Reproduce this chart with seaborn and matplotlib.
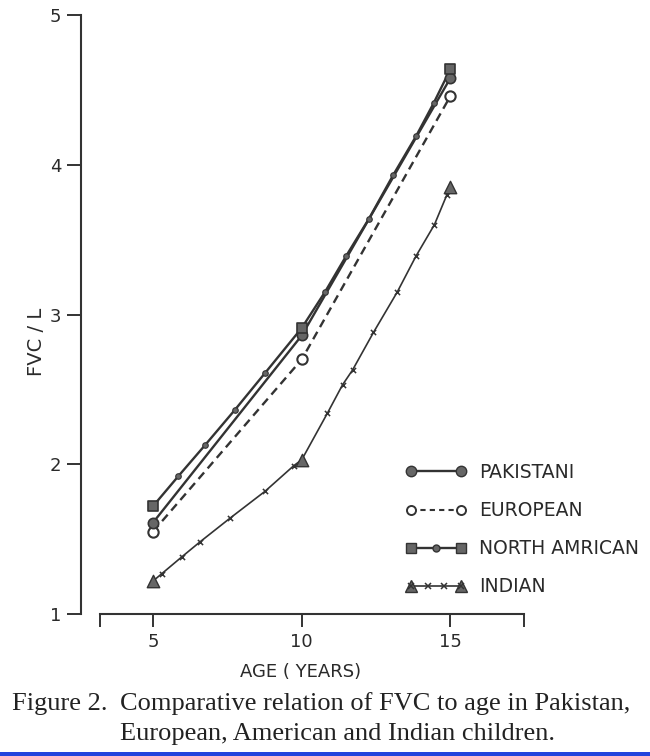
import matplotlib
matplotlib.use("Agg")
import matplotlib.pyplot as plt
from matplotlib.lines import Line2D
from matplotlib.legend_handler import HandlerLine2D, HandlerTuple
from matplotlib.patches import Rectangle
import seaborn as sns
import pandas as pd

# ---------------- data ----------------
ages_main = [5, 10, 15]
pakistani = [1.61, 2.86, 4.58]
european = [1.55, 2.70, 4.46]
north_american = [1.72, 2.91, 4.64]
indian = [1.22, 2.03, 3.85]

# small intermediate markers drawn on the North American and Indian curves
na_small_age = [5.85, 6.76, 7.74, 8.77, 10.78, 11.49, 12.26, 13.07, 13.84, 14.43]
na_small_fvc = [1.92, 2.13, 2.36, 2.61, 3.15, 3.39, 3.64, 3.93, 4.19, 4.41]
ind_small_age = [5.30, 5.96, 6.57, 7.59, 8.77, 9.73, 10.86, 11.37, 11.71,
                 12.41, 13.21, 13.84, 14.46, 14.88]
ind_small_fvc = [1.27, 1.38, 1.48, 1.64, 1.82, 1.99, 2.34, 2.53, 2.63,
                 2.88, 3.15, 3.39, 3.60, 3.80]

x_ticks = [5, 10, 15]
y_ticks = [1, 2, 3, 4, 5]
legend_labels = ["PAKISTANI", "EUROPEAN", "NORTH AMRICAN", "INDIAN"]
x_label = "AGE ( YEARS)"
y_label = "FVC / L"
caption_head = "Figure 2."
caption_lines = ["Comparative relation of FVC to age in Pakistan,",
                 "European, American and Indian children."]

# ---------------- style ----------------
sns.set_style("white")
plt.rcParams["font.family"] = ["DejaVu Sans"]

INK = "#333333"
FILL = "#666666"
TXT = "#2a2a2a"

fig = plt.figure(figsize=(6.5, 7.56), dpi=100)
W, H = 650, 756
ax_left, ax_right, ax_top, ax_bot = 81, 640, 15, 614
ax = fig.add_axes([ax_left / W, 1 - ax_bot / H, (ax_right - ax_left) / W,
                   (ax_bot - ax_top) / H])
px_per_year = 29.75
x0 = 5 - (153 - ax_left) / px_per_year
ax.set_xlim(x0, x0 + (ax_right - ax_left) / px_per_year)
ax.set_ylim(1, 5)


def series_df(main_x, main_y, small_x=None, small_y=None):
    xs = list(main_x) + (list(small_x) if small_x else [])
    ys = list(main_y) + (list(small_y) if small_y else [])
    return pd.DataFrame({"age": xs, "fvc": ys}).sort_values("age")


df_pak = series_df(ages_main, pakistani)
df_eur = series_df(ages_main, european)
df_na = series_df(ages_main, north_american, na_small_age, na_small_fvc)
df_ind = series_df(ages_main, indian, ind_small_age, ind_small_fvc)

# lines
sns.lineplot(data=df_pak, x="age", y="fvc", ax=ax, color=INK, lw=1.7,
             estimator=None, sort=True, legend=False)
sns.lineplot(data=df_eur, x="age", y="fvc", ax=ax, color=INK, lw=1.7,
             estimator=None, sort=True, legend=False, linestyle=(0, (3.6, 2.3)))
sns.lineplot(data=df_na, x="age", y="fvc", ax=ax, color=INK, lw=1.7,
             estimator=None, sort=True, legend=False)
sns.lineplot(data=df_ind, x="age", y="fvc", ax=ax, color=INK, lw=1.2,
             estimator=None, sort=True, legend=False)

# small markers
sns.scatterplot(x=na_small_age, y=na_small_fvc, ax=ax, marker="o", s=16,
                color=FILL, edgecolor=INK, linewidth=0.8, zorder=4, legend=False)
sns.scatterplot(x=ind_small_age, y=ind_small_fvc, ax=ax, marker="x", s=14,
                color=INK, linewidth=1.1, zorder=4, legend=False)

# main markers
sns.scatterplot(x=ages_main, y=indian, ax=ax, marker="^", s=80, color=FILL,
                edgecolor=INK, linewidth=1.0, zorder=5, legend=False, clip_on=False)
sns.scatterplot(x=ages_main, y=european, ax=ax, marker="o", s=55, color="white",
                edgecolor=INK, linewidth=1.5, zorder=5, legend=False, clip_on=False)
sns.scatterplot(x=ages_main, y=pakistani, ax=ax, marker="o", s=55, color=FILL,
                edgecolor=INK, linewidth=1.2, zorder=6, legend=False, clip_on=False)
sns.scatterplot(x=ages_main, y=north_american, ax=ax, marker="s", s=60, color=FILL,
                edgecolor=INK, linewidth=1.2, zorder=6, legend=False, clip_on=False)

# axes styling
for s in ("top", "right"):
    ax.spines[s].set_visible(False)
for s in ("left", "bottom"):
    ax.spines[s].set_color(INK)
    ax.spines[s].set_linewidth(1.5)
x_start = 5 - (153 - 100) / px_per_year
x_end = 15 + (524 - 450) / px_per_year
ax.spines["left"].set_bounds(1, 5)
ax.spines["bottom"].set_bounds(x_start, x_end)
ax.spines["bottom"].set_position(("data", 1.0))

ax.set_xticks(x_ticks)
ax.set_xticks([x_start, x_end], minor=True)
ax.set_yticks(y_ticks)
ax.set_xticklabels([str(v) for v in x_ticks])
ax.set_yticklabels([str(v) for v in y_ticks])
ax.tick_params(axis="x", which="both", bottom=True, direction="out", length=9,
               width=1.4, color=INK, pad=5, labelsize=13, labelcolor=TXT)
ax.tick_params(axis="y", left=True, direction="out", length=10, width=1.4,
               color=INK, pad=4, labelsize=13, labelcolor=TXT)
ax.set_xlabel("")
ax.set_ylabel("")

fig.text(301 / W, 1 - 672 / H, x_label, ha="center", va="center",
         fontsize=13, color=TXT)
fig.text(36 / W, 1 - 342 / H, y_label, ha="center", va="center",
         rotation=90, fontsize=14, color=TXT)

# legend
h_pak = Line2D([], [], color=INK, lw=1.7, marker="o", ms=7.5,
               markerfacecolor=FILL, markeredgecolor=INK)
h_eur = Line2D([], [], color=INK, lw=1.5, ls=(0, (2.5, 2.0)), marker="o", ms=6.5,
               markerfacecolor="white", markeredgecolor=INK, markeredgewidth=1.4)
h_na_end = Line2D([], [], color=INK, lw=1.7, marker="s", ms=7.5,
                  markerfacecolor=FILL, markeredgecolor=INK)
h_na_mid = Line2D([], [], ls="none", marker="o", ms=5,
                  markerfacecolor=FILL, markeredgecolor=INK)
h_ind_end = Line2D([], [], color=INK, lw=1.2, marker="^", ms=8,
                   markerfacecolor=FILL, markeredgecolor=INK)
h_ind_mid = Line2D([], [], ls="none", marker="x", ms=4, color=INK,
                   markeredgewidth=1.1)

leg = fig.legend(
    [h_pak, h_eur, (h_na_end, h_na_mid), (h_ind_end, h_ind_mid)],
    legend_labels,
    handler_map={tuple: HandlerTuple(ndivide=1, pad=0),
                 h_na_mid: HandlerLine2D(numpoints=1),
                 h_ind_mid: HandlerLine2D(numpoints=4)},
    numpoints=2, loc="upper left", bbox_to_anchor=(405 / W, 1 - 463 / H),
    frameon=False, fontsize=13.5, handlelength=3.3, handletextpad=0.65,
    labelspacing=1.02, borderpad=0, borderaxespad=0,
)
for t in leg.get_texts():
    t.set_color(TXT)

# caption
serif = ["Liberation Serif", "DejaVu Serif"]
cap_kw = dict(ha="left", va="baseline", fontsize=19, family=serif, color="#222222")
fig.text(12 / W, 1 - 710 / H, caption_head, **cap_kw)
fig.text(120 / W, 1 - 710 / H, caption_lines[0], **cap_kw)
fig.text(120 / W, 1 - 740 / H, caption_lines[1], **cap_kw)

# blue rule along the bottom edge
fig.patches.append(Rectangle((0, 0), 1, 4 / H, transform=fig.transFigure,
                             facecolor="#2244dd", edgecolor="none"))

fig.savefig("out.png", dpi=100)
